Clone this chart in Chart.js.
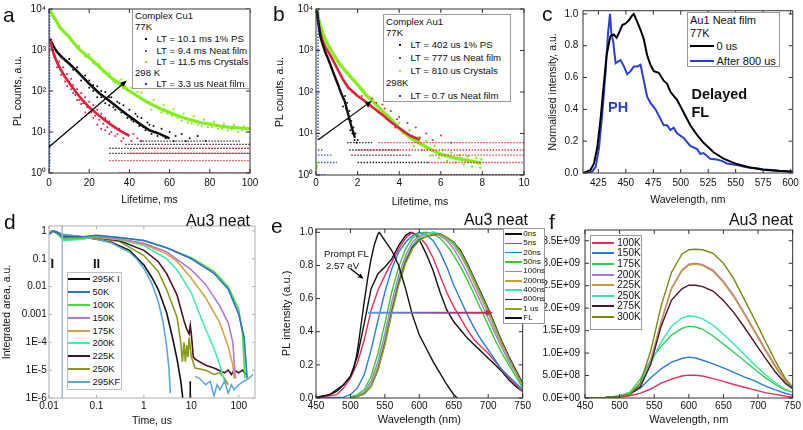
<!DOCTYPE html>
<html><head><meta charset="utf-8">
<script src="https://cdn.jsdelivr.net/npm/chart.js@4/dist/chart.umd.min.js"></script>
<style>
body{margin:0;width:803px;height:430px;position:relative;background:#fff;overflow:hidden;font-family:"Liberation Sans",Arial,sans-serif;color:#111;}
canvas{position:absolute;}
.t{position:absolute;white-space:nowrap;line-height:1;transform:translateY(-50%);}
.box{position:absolute;border:1px solid #888;background:#fff;box-sizing:border-box;}
.ln{position:absolute;}
</style></head><body>
<script>
// ---------------- DATA ----------------
// Panel a: Complex Cu1 decays (x: lifetime ms, y: PL counts)
const aTicksX = [0,20,40,60,80,100];
const aLabelsX = ['0','20','40','60','80','100'];
const logTicks4 = [1,10,100,1000,10000];
const logLabels4 = ['10\u2070','10\u00b9','10\u00b2','10\u00b3','10\u2074'];
const cuCrystals = [[0.3,9500],[1,8200],[2,6800],[3.5,5200],[5.5,3500],[8,2600],[10,2100],[12,1550],[15,1050],[20,650],[25,390],[30,230],[35,150],[40,100],[45,70],[50,50],[55,38],[60,30],[65,24],[70,20],[75,17],[80,15.5],[85,14],[90,13],[95,12.5],[100,12]];
const cuCrystalsNoise = [[15,1250],[18,700],[20,780],[22,480],[25,450],[27,290],[30,270],[32,170],[35,170],[37,115],[33,160],[36,190],[38,130],[41,120],[43,80],[44,95],[46,90],[48,55],[51,35],[52,60],[54,40],[56,30],[57,45],[59,28],[61,25],[62,36],[64,22],[66,19],[67,28],[69,17],[71,16],[72,24],[74,15],[76,14],[77,20],[79,13],[81,13],[82,18],[84,12],[86,12],[87,16],[89,11],[91,11.5],[92,15],[94,10],[96,11],[97,14],[99,10]];
const cuPS = [[0.6,1900],[1,1600],[2,1300],[3,1050],[4,900],[6,700],[8,570],[10,470],[13,340],[16,240],[20,150],[25,88],[30,58],[35,37],[40,24],[45,16],[50,11],[55,9],[60,7]];
const cuPSNoise = [[10,600],[12,330],[14,380],[16,180],[18,240],[20,120],[22,140],[24,70],[26,100],[28,50],[30,70],[32,40],[35,50],[38,28],[41,20],[44,24],[47,13],[50,15],[53,10],[57,8],[62,6],[68,6],[20,180],[22,100],[24,130],[26,70],[28,95],[30,45],[31,70],[33,35],[34,55],[36,30],[37,45],[39,22],[40,35],[42,18],[43,28],[45,14],[46,22],[48,11],[49,17],[51,9],[52,14],[54,8],[56,12],[58,7],[60,10],[63,8],[66,9],[70,7],[74,8],[78,6]];
const cuFilm = [[0.8,1700],[1.5,1100],[2.5,750],[4,500],[6,320],[8,220],[10,160],[13,100],[16,65],[20,40],[25,25],[30,16],[35,11],[40,8]];
const cuFilmNoise = [[3,700],[4,380],[5,520],[6,250],[7,380],[8,170],[9,260],[11,200],[12,90],[14,60],[16,48],[18,30],[20,30],[22,22],[24,15],[26,12],[28,11],[30,9],[33,8],[36,6],[9,130],[10,170],[11,110],[12,140],[13,80],[14,110],[15,60],[16,90],[17,50],[18,70],[19,40],[20,55],[21,30],[22,45],[23,25],[24,35],[25,20],[26,28],[27,16],[28,22],[29,13],[30,18],[31,10],[32,14],[34,9],[35,12],[37,7],[39,9],[41,6],[44,7],[42,9],[46,6]];
const cuRT = [[0.3,1.2],[0.3,9500]];
// count floors [level, xStart, xEnd]
const cuFloorRed = [[1,35,100],[2,30,100],[3,40,100],[4,45,100]];
const cuFloorBlack = [[3,30,100],[4,30,100],[5,38,100],[6,45,95]];
const cuFloorBlue = [[2,0,0.6],[3,0,0.6],[4,0,0.6],[5,0,0.6]];
const cuArrow = [[0,4.3],[38.7,180]];

// Panel b: Complex Au1 decays
const bTicksX = [0,2,4,6,8,10];
const bLabelsX = ['0','2','4','6','8','10'];
const auPS = [[0.05,9000],[0.1,5500],[0.2,2300],[0.3,1500],[0.43,950],[0.6,600],[0.75,380],[0.9,240],[1.06,150],[1.2,95],[1.38,60],[1.54,30],[1.7,15],[1.87,8]];
const auPSNoise = [[1.3,45],[1.4,80],[1.45,40],[1.5,55],[1.55,22],[1.6,35],[1.65,12],[1.7,20],[1.75,10],[1.8,14],[1.85,7],[1.9,10],[1.95,6],[2.0,7]];
const auFilm = [[0.05,8000],[0.1,5000],[0.2,2800],[0.3,1800],[0.45,1200],[0.6,900],[0.8,600],[1.07,330],[1.3,200],[1.55,128],[2,80],[2.36,60],[2.8,40],[3.16,29],[3.6,19],[3.96,14],[4.5,9],[5,7]];
const auFilmNoise = [[2.2,80],[2.5,45],[2.7,70],[2.9,55],[3,32],[3.2,50],[3.3,40],[3.4,22],[3.6,35],[3.8,14],[3.9,22],[4,25],[4.2,11],[4.4,18],[4.6,9],[4.8,14],[5,8],[5.3,10],[5.6,7],[6,9],[6.5,6]];
const auCrystals = [[0.05,9500],[0.15,5000],[0.35,2400],[0.5,1600],[0.75,950],[1.1,500],[1.55,265],[2,150],[2.36,90],[2.8,55],[3.16,36],[3.6,22],[3.96,14],[4.4,9],[4.76,6.8],[5.2,5],[5.56,4],[6,3.2],[6.36,2.8],[6.8,2.5],[7.16,2.3],[7.6,2.1],[7.96,1.9]];
const auCrystalsNoise = [[4,18],[4.2,10],[4.5,12],[4.7,5],[4.9,8],[5.1,4],[5.3,6.5],[5.5,3],[5.7,5],[5.9,2.6],[6.1,4],[6.3,2.2],[6.5,3.5],[6.7,2],[6.9,3],[7.1,1.8],[7.3,2.8],[7.5,1.6],[7.7,2.6],[7.9,1.5],[7.95,2.4],[0.02,1.5],[0.02,2],[0.03,1.7]];
const auRT = [[0.1,7],[0.1,9500]];
const auFloorBlack = [[6,1.5,2.7],[4,1.6,4.0],[3,1.7,4.6],[2,2.0,5.4],[1,2.0,10]];
const auFloorRed = [[6,3.0,10],[4,2.0,10],[3,5.6,10],[2,5.4,10],[1,5,10]];
const auFloorBlue = [[4,0.1,0.3],[3,0.1,0.8],[2,0.1,1.0],[1,0.1,0.5]];
const auArrow = [[0.11,7.1],[2.68,61]];

// Panel c: Au1 neat film spectra
const cTicksX = [425,450,475,500,525,550,575,600];
const cLabelsX = cTicksX.map(String);
const cTicksY = [0,0.2,0.4,0.6,0.8,1.0];
const cLabelsY = ['0.0','0.2','0.4','0.6','0.8','1.0'];
const c0us = [[411,0],[415,0.01],[418,0.02],[421,0.06],[424,0.16],[427,0.34],[430,0.56],[432.5,0.74],[434.7,0.82],[436,0.86],[439,0.87],[441.6,0.85],[443.7,0.88],[446.8,0.93],[449.8,0.94],[452.8,0.96],[455.8,0.99],[457.3,1.0],[460.4,0.95],[463.4,0.9],[466.4,0.84],[469.4,0.74],[472.4,0.68],[475.5,0.64],[480,0.63],[484.5,0.58],[487.6,0.56],[490.6,0.51],[496.6,0.46],[502.7,0.38],[508.7,0.3],[514.8,0.24],[520.8,0.19],[529.9,0.13],[539,0.09],[551,0.056],[563,0.034],[575,0.02],[590,0.012],[602,0.008]];
const c800us = [[411,0],[415,0],[419.6,0.01],[422.6,0.04],[425.6,0.16],[428.6,0.38],[431.6,0.64],[433.8,0.88],[435.6,1.0],[436.8,0.88],[438.6,0.82],[440.7,0.69],[442.8,0.7],[445.2,0.71],[448.3,0.67],[451.3,0.62],[454.3,0.64],[457.3,0.67],[460.4,0.67],[463.4,0.68],[466.4,0.58],[469.4,0.48],[472.4,0.44],[477,0.4],[481.5,0.34],[484.5,0.3],[487.6,0.3],[490.6,0.27],[493.6,0.285],[496.6,0.25],[502.7,0.22],[508.7,0.17],[514.8,0.15],[517.8,0.12],[520.8,0.125],[526.8,0.09],[532.9,0.085],[537.4,0.076],[542,0.06],[551,0.05],[560,0.036],[569,0.03],[575,0.024],[590,0.014],[602,0.01]];

// Panel d: Au3 neat integrated area decays (x: time us, y: a.u.)
const dTicksX = [0.01,0.1,1,10,100];
const dLabelsX = ['0.01','0.1','1','10','100'];
const dTicksY = [1e-6,1e-5,1e-4,1e-3,1e-2,1e-1,1];
const dLabelsY = ['1E-6','1E-5','1E-4','0.001','0.01','0.1','1'];
const dNames = ['295K I','50K','100K','150K','175K','200K','225K','250K','295KF'];
const d295I = [[0.01,0.8],[0.012,1],[0.015,0.9],[0.02,0.72],[0.05,0.62],[0.1,0.5],[0.2,0.4],[0.5,0.2],[1,0.06],[1.5,0.02],[2,0.008],[3,0.0012],[4,0.00015],[5,2.5e-5],[6,4e-6],[6.6,1e-6]];
const d295ISpike = [[9.5,1e-6],[9.5,4e-6]];
const d50 = [[0.01,0.75],[0.012,1],[0.015,0.85],[0.02,0.6],[0.05,0.62],[0.1,0.7],[0.3,0.58],[1,0.45],[3,0.25],[10,0.1],[30,0.03],[60,0.008],[100,0.001],[130,0.00015],[150,5e-6]];
const d100 = [[0.01,0.75],[0.012,1],[0.015,0.8],[0.02,0.5],[0.05,0.55],[0.1,0.68],[0.3,0.58],[1,0.45],[3,0.25],[10,0.11],[30,0.035],[60,0.01],[100,0.0015],[120,0.0002],[135,5e-6]];
const d150 = [[0.01,0.75],[0.012,1],[0.015,0.8],[0.02,0.5],[0.05,0.55],[0.1,0.62],[0.3,0.52],[1,0.36],[3,0.18],[10,0.04],[20,0.012],[40,0.002],[60,0.0005],[75,0.0001],[85,5e-6]];
const d175 = [[0.01,0.75],[0.012,1],[0.015,0.8],[0.02,0.55],[0.05,0.58],[0.1,0.6],[0.3,0.5],[1,0.33],[3,0.15],[5,0.08],[10,0.02],[20,0.004],[40,0.0005],[60,7e-5],[75,1.5e-5],[80,5e-6]];
const d200 = [[0.01,0.75],[0.012,1],[0.015,0.8],[0.02,0.45],[0.05,0.5],[0.1,0.6],[0.3,0.48],[1,0.3],[3,0.1],[5,0.04],[10,0.006],[15,0.001],[20,0.0003],[30,6e-5],[40,1.5e-5],[50,4e-6]];
const d225 = [[0.01,0.8],[0.012,1],[0.015,0.85],[0.02,0.6],[0.05,0.6],[0.1,0.58],[0.3,0.45],[1,0.2],[2,0.08],[3,0.03],[5,0.005],[7,0.0006],[8,0.0003],[9,0.0002],[9.5,0.0004],[10,0.0002],[11,3e-5],[12,2.5e-5],[20,1.5e-5],[30,1.2e-5],[50,8e-6],[60,1e-5],[70,7e-6],[80,1e-5],[100,8e-6],[120,1e-5],[140,7e-6]];
const d250 = [[0.01,0.8],[0.012,1],[0.015,0.85],[0.02,0.65],[0.05,0.6],[0.1,0.55],[0.3,0.42],[1,0.13],[2,0.035],[3,0.008],[5,0.0008],[6,0.0001],[6.5,2e-5],[7,1e-4],[7.5,2e-5],[8,8e-5],[8.5,3e-5],[9,1.5e-4],[10,3e-5],[12,1.2e-5],[20,1e-5],[30,7e-6],[40,8e-6],[50,5e-6],[60,3e-6]];
const d295F = [[0.01,0.85],[0.012,1],[0.015,0.9],[0.02,0.75],[0.05,0.62],[0.1,0.5],[0.2,0.38],[0.5,0.17],[0.7,0.1],[1,0.045],[1.5,0.012],[2,0.003],[2.5,0.0006],[3,8e-5],[3.4,1e-5],[3.6,1.5e-6]];
const d295FTail = [[12,6e-6],[15,5e-6],[20,3e-6],[25,4e-6],[30,1.2e-6],[35,3e-6],[40,2e-6],[50,4e-6],[60,1.5e-6],[70,3e-6],[80,2e-6],[100,3e-6],[130,4e-6],[160,5e-6],[200,7e-6]];
const dDivider = [[0.019,1e-6],[0.019,1.5]];

// Panel e: time-resolved spectra (x: nm, y: normalised)
const eTicksX = [450,500,550,600,650,700,750];
const eLabelsX = eTicksX.map(String);
const eTicksY = [0,0.2,0.4,0.6,0.8,1.0];
const eLabelsY = ['0.0','0.2','0.4','0.6','0.8','1.0'];
const eNames = ['0ns','5ns','20ns','50ns','100ns','200ns','400ns','600ns','1 us','FL'];
const eWl = [500,510,520,530,540,550,560,570,580,590,600,610,620,630,640,650,660,670,680,690,700,710,720,730,740,750];
const e0ns = [[450,0.005],[470,0.02],[490,0.08],[500,0.13],[510,0.25],[520,0.45],[530,0.66],[540,0.75],[550,0.79],[560,0.84],[570,0.92],[580,0.98],[587,1.0],[595,0.985],[600,0.955],[610,0.87],[620,0.77],[630,0.64],[640,0.53],[650,0.46],[660,0.41],[670,0.36],[680,0.32],[690,0.28],[700,0.24],[710,0.2],[720,0.16],[730,0.11],[740,0.07],[750,0.04]];
const e5ns = [[450,0],[480,0.02],[490,0.06],[500,0.12],[510,0.21],[520,0.35],[530,0.53],[540,0.65],[550,0.74],[560,0.82],[570,0.9],[580,0.965],[590,1.0],[600,0.975],[610,0.925],[620,0.845],[630,0.74],[640,0.635],[650,0.55],[660,0.48],[670,0.41],[680,0.35],[690,0.31],[700,0.27],[710,0.22],[720,0.17],[730,0.12],[740,0.08],[750,0.04]];
const e20ns = [[450,0],[490,0.005],[500,0.02],[510,0.06],[520,0.14],[530,0.29],[540,0.47],[550,0.64],[560,0.78],[570,0.88],[580,0.94],[590,0.98],[600,1.0],[610,0.985],[620,0.95],[630,0.88],[640,0.79],[650,0.68],[660,0.59],[670,0.5],[680,0.42],[690,0.35],[700,0.29],[710,0.23],[720,0.17],[730,0.13],[740,0.09],[750,0.05]];
const e50ns = [0.005,0.02,0.05,0.13,0.27,0.45,0.64,0.79,0.9,0.965,0.995,1.0,0.99,0.965,0.92,0.86,0.79,0.71,0.62,0.53,0.44,0.35,0.27,0.2,0.13,0.06];
const e100ns = [0,0.01,0.035,0.1,0.22,0.39,0.58,0.74,0.86,0.94,0.98,0.995,1.0,0.98,0.95,0.9,0.83,0.75,0.66,0.57,0.48,0.39,0.3,0.22,0.15,0.07];
const e200ns = [0,0.01,0.03,0.08,0.19,0.35,0.54,0.71,0.84,0.92,0.97,0.99,1.0,0.99,0.96,0.92,0.86,0.78,0.69,0.6,0.51,0.41,0.32,0.24,0.16,0.08];
const e400ns = [0,0.01,0.03,0.075,0.18,0.34,0.53,0.7,0.83,0.92,0.965,0.99,1.0,0.99,0.965,0.925,0.87,0.79,0.7,0.61,0.52,0.42,0.33,0.24,0.16,0.08];
const e600ns = [0,0.01,0.025,0.07,0.17,0.33,0.52,0.69,0.82,0.91,0.955,0.975,0.985,0.99,0.97,0.94,0.89,0.81,0.72,0.63,0.54,0.44,0.34,0.25,0.17,0.09];
const e1us = [0,0.01,0.025,0.07,0.17,0.32,0.51,0.68,0.81,0.9,0.95,0.975,0.99,0.99,0.97,0.935,0.88,0.8,0.71,0.62,0.53,0.43,0.33,0.24,0.16,0.08];
const eFL = [[450,0],[460,0.01],[470,0.02],[480,0.04],[490,0.08],[500,0.13],[505,0.18],[510,0.28],[515,0.43],[520,0.58],[525,0.72],[530,0.84],[535,0.93],[540,0.99],[542,1.0],[550,0.95],[560,0.89],[570,0.8],[580,0.66],[590,0.5],[600,0.38],[610,0.3],[620,0.22],[630,0.15],[640,0.08],[650,0.02],[655,0]];
const eShift = [[525,0.515],[707,0.515]];
const eFLArrow = [[500,0.78],[519,0.72]];

// Panel f: temperature-dependent spectra (x: nm, y: intensity)
const fTicksX = [450,500,550,600,650,700,750];
const fLabelsX = fTicksX.map(String);
const fTicksY = [0,5e8,1e9,1.5e9,2e9,2.5e9,3e9,3.5e9];
const fLabelsY = ['0.0E+00','5.0E+08','1.0E+09','1.5E+09','2.0E+09','2.5E+09','3.0E+09','3.5E+09'];
const fNames = ['100K','150K','175K','200K','225K','250K','275K','300K'];
const fWl = [450,480,500,515,530,545,560,575,590,600,610,620,635,650,665,680,695,710,725,740,750];
const f100K = [0,0.005,0.02,0.05,0.11,0.2,0.33,0.42,0.49,0.51,0.505,0.49,0.43,0.37,0.3,0.24,0.18,0.12,0.08,0.04,0.02];
const f150K = [0,0.01,0.04,0.1,0.22,0.45,0.65,0.8,0.88,0.91,0.89,0.84,0.76,0.67,0.57,0.47,0.38,0.27,0.18,0.1,0.06];
const f175K = [0,0.01,0.05,0.13,0.42,0.85,1.15,1.4,1.55,1.6,1.58,1.53,1.38,1.2,1.02,0.83,0.64,0.46,0.3,0.17,0.13];
const f200K = [0,0.01,0.04,0.1,0.3,0.85,1.7,2.45,2.85,2.98,3.0,2.97,2.85,2.6,2.28,1.9,1.5,1.1,0.72,0.38,0.25];
const f225K = [0,0.01,0.04,0.1,0.28,0.82,1.68,2.43,2.83,2.96,2.98,2.95,2.82,2.57,2.25,1.87,1.47,1.07,0.69,0.36,0.24];
const f250K = [0,0.01,0.04,0.11,0.32,0.78,1.25,1.6,1.78,1.83,1.81,1.76,1.62,1.42,1.2,0.97,0.74,0.53,0.34,0.19,0.13];
const f275K = [0,0.01,0.03,0.08,0.25,0.75,1.6,2.18,2.43,2.51,2.51,2.48,2.38,2.17,1.9,1.58,1.24,0.9,0.58,0.32,0.21];
const f300K = [0,0.01,0.03,0.08,0.34,1.05,2.05,2.8,3.2,3.3,3.31,3.3,3.22,3.0,2.65,2.2,1.75,1.28,0.82,0.42,0.24];

// ---------------- HELPERS ----------------
const FONT = '"Liberation Sans", Arial, sans-serif';
Chart.defaults.font.family = FONT;
Chart.defaults.color = '#111';
const pts = a => a.map(p => ({x:p[0], y:p[1]}));
const zip = (xs, ys, scale) => xs.map((x,i) => ({x, y: ys[i]*(scale||1)}));
function lineDS(data, color, w, extra) { return Object.assign({data, borderColor: color, backgroundColor: color, borderWidth: w, showLine: true, pointRadius: 0, clip: 0}, extra||{}); }
function dotDS(data, color, r) { return {data, borderColor: color, backgroundColor: color, borderWidth: 0, showLine: false, pointRadius: r||1, clip: 0}; }
function floorDS(rows, color) { return rows.map(r => lineDS([{x:r[1],y:r[0]},{x:r[2],y:r[0]}], color, 1.3, {borderDash:[1.3,1.7]})); }

function axisCfg(o, pos, size) {
  return {
    type: o.type || 'linear', position: pos, min: o.min, max: o.max,
    grid: {display: false, drawTicks: false}, border: {display: false},
    title: {display: !!o.title, text: o.title || '', color: '#111', font: {size: o.titleSize || 10.5},
            padding: pos === 'left' ? {top: o.titlePad, bottom: 0} : {top: 0, bottom: o.titlePad}},
    ticks: {autoSkip: false, maxRotation: 0, minRotation: 0, padding: o.tickPad, color: '#111',
            font: {size: o.tickSize || 10}, callback: (v, i) => o.labels[i]},
    afterBuildTicks: s => { s.ticks = o.ticks.map(v => ({value: v})); },
    afterFit: s => { if (pos === 'left') s.width = size; else s.height = size; }
  };
}
function frame(color, tlen) {
  return {id: 'frame', afterDatasetsDraw(ch) {
    const {ctx, chartArea: a} = ch; const sx = ch.scales.x, sy = ch.scales.y;
    ctx.save(); ctx.strokeStyle = color; ctx.lineWidth = 1;
    ctx.strokeRect(a.left, a.top, a.right - a.left, a.bottom - a.top);
    ctx.beginPath();
    sx.ticks.forEach(t => { const p = sx.getPixelForValue(t.value);
      ctx.moveTo(p, a.bottom); ctx.lineTo(p, a.bottom - tlen); ctx.moveTo(p, a.top); ctx.lineTo(p, a.top + tlen); });
    sy.ticks.forEach(t => { const p = sy.getPixelForValue(t.value);
      ctx.moveTo(a.left, p); ctx.lineTo(a.left + tlen, p); ctx.moveTo(a.right, p); ctx.lineTo(a.right - tlen, p); });
    ctx.stroke(); ctx.restore();
  }};
}
function arrow(ctx, x1, y1, x2, y2, color, w, head) {
  const ang = Math.atan2(y2 - y1, x2 - x1);
  ctx.save(); ctx.strokeStyle = color; ctx.fillStyle = color; ctx.lineWidth = w;
  ctx.beginPath(); ctx.moveTo(x1, y1); ctx.lineTo(x2 - Math.cos(ang)*head*0.6, y2 - Math.sin(ang)*head*0.6); ctx.stroke();
  ctx.beginPath(); ctx.moveTo(x2, y2);
  ctx.lineTo(x2 - head*Math.cos(ang - 0.4), y2 - head*Math.sin(ang - 0.4));
  ctx.lineTo(x2 - head*Math.cos(ang + 0.4), y2 - head*Math.sin(ang + 0.4));
  ctx.closePath(); ctx.fill(); ctx.restore();
}
function px(ch, p) { return [ch.scales.x.getPixelForValue(p[0]), ch.scales.y.getPixelForValue(p[1])]; }

function makeChart(c) {
  const cv = document.createElement('canvas');
  cv.width = c.W; cv.height = c.H; cv.style.left = c.L + 'px'; cv.style.top = c.T + 'px';
  document.body.appendChild(cv);
  return new Chart(cv, {
    type: 'scatter',
    data: {datasets: c.datasets},
    options: {
      responsive: false, animation: false, events: [],
      layout: {padding: {left: 0, top: c.area.t - c.T, right: c.L + c.W - c.area.r, bottom: 0}},
      plugins: {legend: {display: false}, tooltip: {enabled: false}},
      elements: {line: {tension: 0}, point: {radius: 0}},
      scales: {x: axisCfg(c.x, 'bottom', c.T + c.H - c.area.b), y: axisCfg(c.y, 'left', c.area.l - c.L)}
    },
    plugins: [frame(c.frameColor || '#333', c.tickLen == null ? 4 : c.tickLen), {id: 'extra', afterDatasetsDraw: ch => { if (c.extra) c.extra(ch); }}]
  });
}
function T(x, y, s, css) { const d = document.createElement('div'); d.className = 't'; d.style.left = x + 'px'; d.style.top = y + 'px'; d.textContent = s; if (css) d.style.cssText += css; document.body.appendChild(d); return d; }
function box(x1, y1, x2, y2, col) { const d = document.createElement('div'); d.className = 'box'; d.style.cssText += `left:${x1}px;top:${y1}px;width:${x2-x1}px;height:${y2-y1}px;border-color:${col||'#888'}`; document.body.appendChild(d); }
function seg(x1, x2, y, col, w) { const d = document.createElement('div'); d.className = 'ln'; d.style.cssText = `left:${x1}px;top:${y - w/2}px;width:${x2-x1}px;height:${w}px;background:${col}`; document.body.appendChild(d); }

// ---------------- PANEL a ----------------
const RED = '#e0203c', GRN = '#84f01a', BLK = '#111', BLU = '#1f3ad8';
makeChart({L:0, T:0, W:265, H:210, area:{l:49, t:7, r:250, b:173},
  x:{min:0, max:100, ticks:aTicksX, labels:aLabelsX, title:'Lifetime, ms', titlePad:3.7, tickPad:4},
  y:{type:'logarithmic', min:1, max:10000, ticks:logTicks4, labels:logLabels4, title:'PL counts, a.u.', titlePad:11.7, tickPad:3},
  datasets:[
    ...floorDS(cuFloorRed, RED), ...floorDS(cuFloorBlack, BLK), ...floorDS(cuFloorBlue, BLU),
    lineDS(pts(cuRT), BLU, 1.3, {borderDash:[1.5,1.5]}),
    dotDS(pts(cuFilmNoise), RED, 1), lineDS(pts(cuFilm), RED, 2.6),
    dotDS(pts(cuPSNoise), BLK, 1), lineDS(pts(cuPS), BLK, 2.6),
    dotDS(pts(cuCrystalsNoise), GRN, 1.1), lineDS(pts(cuCrystals), GRN, 3.2)
  ],
  extra: ch => { const [x1,y1] = px(ch, cuArrow[0]), [x2,y2] = px(ch, cuArrow[1]); arrow(ch.ctx, x1, y1, x2, y2, '#000', 1.2, 7); }
});

// ---------------- PANEL b ----------------
makeChart({L:265, T:0, W:268, H:210, area:{l:316, t:7, r:524, b:175},
  x:{min:0, max:10, ticks:bTicksX, labels:bLabelsX, title:'Lifetime, ms', titlePad:2, tickPad:2.3},
  y:{type:'logarithmic', min:1, max:10000, ticks:logTicks4, labels:logLabels4, title:'PL counts, a.u.', titlePad:8.7, tickPad:3},
  datasets:[
    ...floorDS(auFloorRed, RED), ...floorDS(auFloorBlack, BLK), ...floorDS(auFloorBlue, BLU),
    lineDS(pts(auRT), BLU, 1.3, {borderDash:[1.5,1.5]}),
    dotDS(pts(auPSNoise), BLK, 1), lineDS(pts(auPS), BLK, 2.4),
    dotDS(pts(auFilmNoise), RED, 1), lineDS(pts(auFilm), RED, 2.6),
    dotDS(pts(auCrystalsNoise), GRN, 1.2), lineDS(pts(auCrystals), GRN, 3.4)
  ],
  extra: ch => { const [x1,y1] = px(ch, auArrow[0]), [x2,y2] = px(ch, auArrow[1]); arrow(ch.ctx, x1, y1, x2, y2, '#000', 1.2, 7); }
});

// ---------------- PANEL c ----------------
makeChart({L:533, T:0, W:270, H:210, area:{l:583, t:4, r:793, b:173},
  x:{min:411, max:602, ticks:cTicksX, labels:cLabelsX, title:'Wavelength, nm', titlePad:3.7, tickPad:4},
  y:{min:0, max:1.02, ticks:cTicksY, labels:cLabelsY, title:'Normalised intensity, a.u.', titlePad:14, tickPad:4.7},
  datasets:[lineDS(pts(c0us), '#000', 2), lineDS(pts(c800us), '#2a3fd8', 2)]
});

// ---------------- PANEL d ----------------
const dCols = ['#111','#2f6fc8','#44dd44','#b57ac8','#d4a24a','#44eeaa','#4a0f25','#8a9a1e','#5aa8e0'];
makeChart({L:0, T:210, W:265, H:220, area:{l:49, t:226, r:255, b:398},
  x:{type:'logarithmic', min:0.01, max:220, ticks:dTicksX, labels:dLabelsX, title:'Time, us', titlePad:3, tickPad:2},
  y:{type:'logarithmic', min:1e-6, max:1.5, ticks:dTicksY, labels:dLabelsY, title:'Integrated area, a.u.', titlePad:1, tickPad:2.3},
  frameColor:'#b0b0b0', tickLen:3,
  datasets:[
    lineDS(pts(dDivider), '#a8b8c8', 1.5),
    lineDS(pts(d295FTail), dCols[8], 1.5),
    lineDS(pts(d50), dCols[1], 1.6), lineDS(pts(d100), dCols[2], 1.6), lineDS(pts(d150), dCols[3], 1.6),
    lineDS(pts(d175), dCols[4], 1.6), lineDS(pts(d200), dCols[5], 1.6), lineDS(pts(d225), dCols[6], 1.6),
    lineDS(pts(d250), dCols[7], 1.6), lineDS(pts(d295F), dCols[8], 1.6),
    lineDS(pts(d295I), dCols[0], 1.6), lineDS(pts(d295ISpike), dCols[0], 1.6)
  ]
});

// ---------------- PANEL e ----------------
const eCols = ['#111','#e0305c','#2a7de0','#33cc33','#aa77dd','#c8a030','#33e8b0','#4a1530','#88aa22','#111'];
makeChart({L:265, T:210, W:268, H:220, area:{l:316, t:229, r:525, b:398},
  x:{min:450, max:750, ticks:eTicksX, labels:eLabelsX, title:'Wavelength (nm)', titlePad:3, tickPad:2, titleSize:11},
  y:{min:0, max:1.02, ticks:eTicksY, labels:eLabelsY, title:'PL intensity (a.u.)', titlePad:15.4, tickPad:2.7, titleSize:11},
  datasets:[
    lineDS(pts(eFL), eCols[9], 1.4),
    lineDS(zip(eWl, e1us), eCols[8], 1.4), lineDS(zip(eWl, e600ns), eCols[7], 1.4), lineDS(zip(eWl, e400ns), eCols[6], 1.4),
    lineDS(zip(eWl, e200ns), eCols[5], 1.4), lineDS(zip(eWl, e100ns), eCols[4], 1.4), lineDS(zip(eWl, e50ns), eCols[3], 1.4),
    lineDS(pts(e20ns), eCols[2], 1.4), lineDS(pts(e5ns), eCols[1], 1.4), lineDS(pts(e0ns), eCols[0], 1.4)
  ],
  extra: ch => {
    const ctx = ch.ctx; const [x1,y1] = px(ch, eShift[0]), [x2,y2] = px(ch, eShift[1]);
    const g = ctx.createLinearGradient(x1, 0, x2, 0); g.addColorStop(0, '#5aa0e8'); g.addColorStop(0.5, '#7a5aa0'); g.addColorStop(1, '#d02048');
    arrow(ctx, x1, y1, x2, y2, g, 2, 8);
    const [a1,b1] = px(ch, eFLArrow[0]), [a2,b2] = px(ch, eFLArrow[1]); arrow(ctx, a1, b1, a2, b2, '#000', 1.2, 6);
  }
});

// ---------------- PANEL f ----------------
const fCols = ['#e0305c','#2a7de0','#33cc55','#aa77dd','#c89a40','#33e8a0','#4a1530','#7a8a10'];
const fSeries = [f100K,f150K,f175K,f200K,f225K,f250K,f275K,f300K];
makeChart({L:533, T:210, W:270, H:220, area:{l:585, t:230, r:793, b:398},
  x:{min:450, max:750, ticks:fTicksX, labels:fLabelsX, title:'Wavelength, nm', titlePad:3, tickPad:2, titleSize:11},
  y:{min:0, max:3.74e9, ticks:fTicksY, labels:fLabelsY, tickPad:5},
  datasets: fSeries.map((s,i) => lineDS(zip(fWl, s, 1e9), fCols[i], 1.4)).reverse()
});

// ---------------- OVERLAY TEXT ----------------
const L20 = 'font-size:21px;';
T(3, 14, 'a', L20); T(273, 13, 'b', L20); T(542, 13, 'c', L20);
T(4, 221, 'd', L20); T(271, 225, 'e', L20); T(549, 221, 'f', L20);
const AU = 'font-size:16px;transform:translate(-100%,-50%);';
T(250, 221, 'Au3 neat', AU); T(528, 219.5, 'Au3 neat', AU); T(793, 220, 'Au3 neat', AU);

// legend a
box(132, 9, 250, 89, '#999');
const LA = 'font-size:9.6px;';
T(135, 15.5, 'Complex Cu1', LA); T(135, 27, '77K', LA);
[['LT = 10.1 ms 1% PS', BLK, 39],['LT = 9.4 ms Neat film', '#666', 50.5],['LT = 11.5 ms Crystals', GRN, 61.8]].forEach(r => { T(156.5, r[2], r[0], LA); seg(145, 147, r[2], r[1], 2); });
T(135, 72.5, '298 K', LA); T(156.5, 84, 'LT = 3.3 us Neat film', LA); seg(145, 147, 84, BLU, 2);

// legend b
box(383, 14, 511, 102, '#999');
T(386, 21.7, 'Complex Au1', LA); T(386, 33.2, '77K', LA);
[['LT = 402 us 1% PS', BLK, 45.2],['LT = 777 us Neat film', '#7a3a8a', 58],['LT = 810 us Crystals', GRN, 70.7]].forEach(r => { T(410.5, r[2], r[0], LA); seg(399, 401, r[2], r[1], 2); });
T(386, 83.3, '298K', LA); T(410.5, 96, 'LT = 0.7 us Neat film', LA); seg(399, 401, 96, '#233a8a', 2);

// legend c and labels
box(687, 11.5, 780, 67, '#999');
const LC = 'font-size:11px;';
T(690, 20, 'Au1 Neat film', LC); T(690, 33.3, '77K', LC);
seg(690, 714, 46.3, '#000', 2); T(716.5, 46.3, '0 us', LC);
seg(690, 714, 60.5, '#2a3fd8', 2); T(716.5, 60.5, 'After 800 us', LC);
T(608, 106.5, 'PH', 'font-size:14.5px;font-weight:bold;color:#2a3fd8;');
T(691.5, 93.5, 'Delayed', 'font-size:14.5px;font-weight:bold;');
T(691.5, 112, 'FL', 'font-size:14.5px;font-weight:bold;');

// legend d
box(66.5, 271.5, 121.5, 390, '#b8c0c8');
dNames.forEach((n, i) => { const y = 279.3 + i*12.8; seg(68.3, 90, y, dCols[i], 2); T(92.5, y, n, 'font-size:9.4px;'); });
T(50.5, 263, 'I', 'font-size:13px;font-weight:bold;'); T(93, 263, 'II', 'font-size:13px;font-weight:bold;');

// legend e and labels
box(503, 228, 545, 324, '#999');
eNames.forEach((n, i) => { const y = 234 + i*9.35; seg(504.5, 521.5, y, eCols[i], 1.6); T(523.3, y, n, 'font-size:8px;'); });
T(324, 253.5, 'Prompt FL', 'font-size:9.6px;'); T(326, 266, '2.57 eV', 'font-size:9.6px;');

// legend f
box(590, 235, 642, 330, '#999');
fNames.forEach((n, i) => { const y = 242.7 + i*10.6; seg(592, 614, y, fCols[i], 2); T(617.3, y, n, 'font-size:10px;'); });
</script>
</body></html>
